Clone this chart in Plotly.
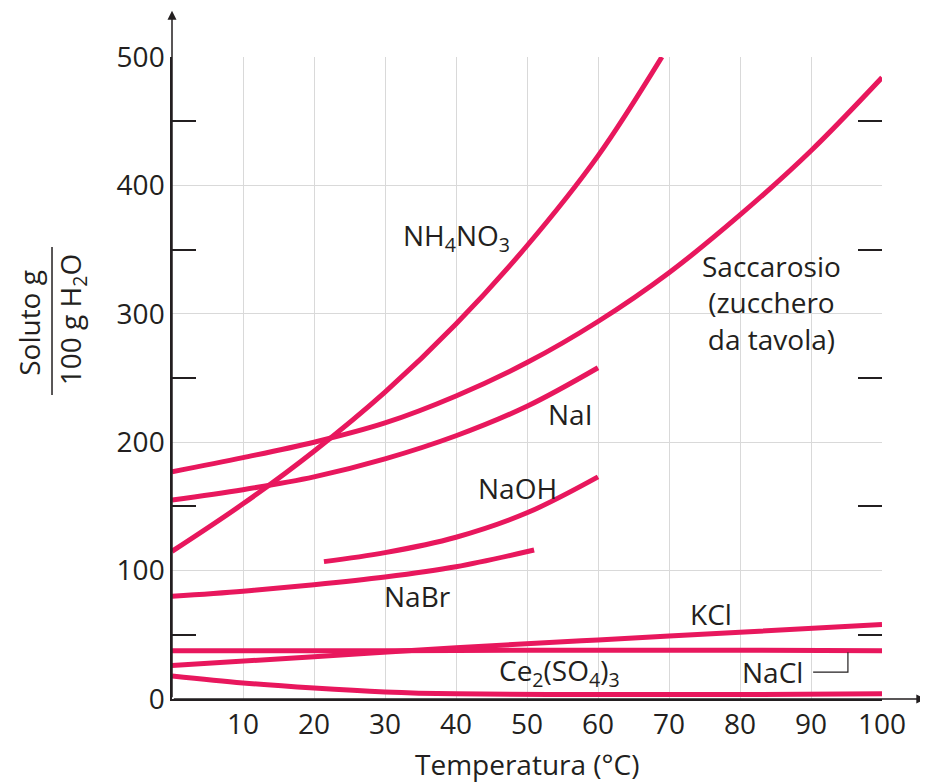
import plotly.graph_objects as go

# ---- data ----
nh4no3_x = [0, 10, 20, 30, 40, 50, 60, 69]
nh4no3_y = [115, 152, 193, 239, 292, 353, 423, 500]

sacc_x = [0, 10, 20, 30, 40, 50, 60, 70, 80, 90, 100]
sacc_y = [177, 188, 200, 215, 236, 262, 294, 332, 377, 427, 484]

nai_x = [0, 10, 20, 30, 40, 50, 60]
nai_y = [155, 163, 173, 187, 205, 228, 258]

naoh_x = [21.4, 30, 40, 50, 60]
naoh_y = [107, 114, 126, 145, 173]

nabr_x = [0, 10, 20, 30, 40, 51]
nabr_y = [80, 84, 89, 95, 103, 116]

kcl_x = [0, 20, 40, 60, 80, 100]
kcl_y = [26, 33, 40, 46, 52, 58]

nacl_x = [0, 20, 40, 60, 80, 100]
nacl_y = [37.5, 37.5, 37.8, 38, 38, 37.5]

ce_x = [0, 10, 20, 30, 40, 60, 80, 100]
ce_y = [18, 12.5, 8.5, 5.5, 4, 3.5, 3.5, 4]

series = [
    ("NH4NO3", nh4no3_x, nh4no3_y),
    ("Saccarosio", sacc_x, sacc_y),
    ("NaI", nai_x, nai_y),
    ("NaOH", naoh_x, naoh_y),
    ("NaBr", nabr_x, nabr_y),
    ("KCl", kcl_x, kcl_y),
    ("NaCl", nacl_x, nacl_y),
    ("Ce2(SO4)3", ce_x, ce_y),
]

x_ticks = [10, 20, 30, 40, 50, 60, 70, 80, 90, 100]
y_ticks = [0, 100, 200, 300, 400, 500]
y_half_ticks = [50, 150, 250, 350, 450]

labels = [
    ("NH<sub>4</sub>NO<sub>3</sub>", 40, 360),
    ("Saccarosio<br>(zucchero<br>da tavola)", 84.5, 309),
    ("NaI", 56, 222),
    ("NaOH", 48.6, 164),
    ("NaBr", 34.6, 80),
    ("KCl", 75.9, 66),
    ("Ce<sub>2</sub>(SO<sub>4</sub>)<sub>3</sub>", 54.6, 21),
    ("NaCl", 84.6, 21),
]

# ---- styles ----
RED = "#e8175d"
INK = "#231f20"
GRID = "#d9d9d9"
FONT = "Open Sans"
FS = 28

fig = go.Figure()
for name, xs, ys in series:
    fig.add_trace(go.Scatter(x=xs, y=ys, mode="lines", name=name,
                             line=dict(color=RED, width=5, shape="spline", smoothing=1.0),
                             showlegend=False, hoverinfo="skip"))

# invisible trace to activate right-side tick axis
fig.add_trace(go.Scatter(x=[0], y=[0], yaxis="y2", mode="markers",
                         marker=dict(opacity=0), showlegend=False, hoverinfo="skip"))

for text, x, y in labels:
    fig.add_annotation(x=x, y=y, text=text, showarrow=False,
                       font=dict(family=FONT, size=FS, color=INK), align="center")

# leader line for NaCl
fig.add_shape(type="path", path="M 90.3,21 L 95.2,21 L 95.2,36.5",
              line=dict(color=INK, width=1.2), xref="x", yref="y")

# axis arrows
fig.add_annotation(x=1.061, y=0, ax=-753, ay=0, xref="paper", yref="paper",
                   text="", showarrow=True,
                   arrowhead=2, arrowsize=1.2, arrowwidth=1.5, arrowcolor=INK)
fig.add_annotation(x=0, y=1.072, ax=0, ay=688, xref="paper", yref="paper",
                   text="", showarrow=True,
                   arrowhead=2, arrowsize=1.2, arrowwidth=1.5, arrowcolor=INK)

# y-axis title (fraction)
fig.add_annotation(x=-0.2014, y=0.586, xref="paper", yref="paper", text="Soluto g",
                   xanchor="center", yanchor="middle",
                   textangle=-90, showarrow=False, font=dict(family=FONT, size=FS, color=INK))
fig.add_annotation(x=-0.1408, y=0.59, xref="paper", yref="paper", text="100 g H<sub>2</sub>O",
                   xanchor="center", yanchor="middle",
                   textangle=-90, showarrow=False, font=dict(family=FONT, size=FS, color=INK))
fig.add_shape(type="line", x0=-0.169, x1=-0.169, y0=0.4735, y1=0.704,
              xref="paper", yref="paper", line=dict(color=INK, width=1.5))

# x-axis title
fig.add_annotation(x=0.5, y=-0.102, xref="paper", yref="paper", text="Temperatura (°C)",
                   showarrow=False, yanchor="middle", font=dict(family=FONT, size=FS, color=INK))

fig.update_layout(
    width=928, height=783,
    margin=dict(l=164, r=54, t=49, b=92),
    plot_bgcolor="white", paper_bgcolor="white",
    font=dict(family=FONT, size=FS, color=INK),
    xaxis=dict(range=[0, 100], tickmode="array", tickvals=x_ticks,
               showgrid=True, gridcolor=GRID, gridwidth=1.2,
               showline=True, linecolor=INK, linewidth=1.5,
               ticks="", zeroline=False, tickfont=dict(size=FS, color=INK)),
    yaxis=dict(range=[0, 500], tickmode="array", tickvals=y_ticks,
               showgrid=True, gridcolor=GRID, gridwidth=1.2,
               showline=True, linecolor=INK, linewidth=1.5,
               ticks="", zeroline=False, tickfont=dict(size=FS, color=INK),
               minor=dict(tickmode="array", tickvals=y_half_ticks, ticks="inside",
                          ticklen=24, tickwidth=2, tickcolor=INK, showgrid=False)),
    yaxis2=dict(range=[0, 500], overlaying="y", side="right", tickmode="array",
                tickvals=y_half_ticks, ticks="inside", ticklen=24, tickwidth=2,
                tickcolor=INK, showticklabels=False, showgrid=False,
                showline=False, zeroline=False),
)

fig.write_html("out.html")
